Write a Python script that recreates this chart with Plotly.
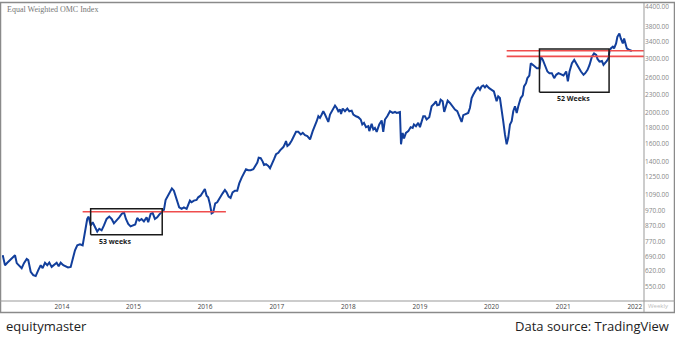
import numpy as np
import pandas as pd
import plotly.graph_objects as go

# ---------------- data (decimal year, index value) ----------------
yrs_2013_14 = [2013.172, 2013.204, 2013.236, 2013.274, 2013.311, 2013.344, 2013.368, 2013.399, 2013.437, 2013.469,
               2013.507, 2013.529, 2013.563, 2013.599, 2013.633, 2013.669, 2013.703, 2013.730, 2013.763, 2013.795,
               2013.823, 2013.856, 2013.888, 2013.926, 2013.954, 2013.982, 2014.018, 2014.052, 2014.084, 2014.122,
               2014.149, 2014.182, 2014.214, 2014.251, 2014.289, 2014.321, 2014.353, 2014.373, 2014.401, 2014.429,
               2014.461, 2014.493, 2014.521, 2014.554, 2014.587, 2014.624, 2014.661, 2014.694, 2014.726, 2014.764,
               2014.800, 2014.834, 2014.866, 2014.894, 2014.926, 2014.959, 2014.996]
val_2013_14 = [697, 647, 659, 672, 682, 697, 657, 647, 633, 657,
               678, 672, 616, 601, 597, 624, 647, 633, 659, 647,
               660, 639, 647, 659, 642, 659, 647, 642, 636, 639,
               672, 723, 750, 756, 750, 817, 912, 928, 869, 890,
               858, 831, 848, 838, 869, 912, 928, 912, 883, 901,
               923, 947, 958, 912, 879, 863, 869]

yrs_2015_16 = [2015.024, 2015.052, 2015.080, 2015.113, 2015.145, 2015.183, 2015.205, 2015.239, 2015.267, 2015.299,
               2015.331, 2015.359, 2015.392, 2015.425, 2015.448, 2015.485, 2015.508, 2015.536, 2015.564, 2015.602,
               2015.638, 2015.672, 2015.704, 2015.742, 2015.764, 2015.788, 2015.811, 2015.843, 2015.881, 2015.904,
               2015.937, 2015.973, 2015.997, 2016.021, 2016.043, 2016.067, 2016.091, 2016.113, 2016.141, 2016.169,
               2016.207, 2016.244, 2016.276, 2016.300, 2016.328, 2016.355, 2016.383, 2016.416, 2016.448, 2016.476,
               2016.510, 2016.542, 2016.570, 2016.602, 2016.635, 2016.672, 2016.700, 2016.728, 2016.747, 2016.775,
               2016.803, 2016.821, 2016.849, 2016.881, 2016.905, 2016.929, 2016.961, 2016.989]
val_2015_16 = [875, 919, 901, 912, 896, 923, 890, 947, 954, 912,
               923, 942, 963, 976, 1050, 1084, 1111, 1144, 1125, 1050,
               994, 983, 994, 983, 1019, 1045, 1032, 1045, 1050, 1071,
               1084, 1111, 1139, 1084, 1071, 1019, 951, 958, 1024, 1032,
               1071, 1103, 1131, 1111, 1076, 1066, 1111, 1125, 1125, 1187,
               1240, 1287, 1319, 1310, 1310, 1319, 1352, 1386, 1438, 1432,
               1396, 1362, 1369, 1352, 1329, 1376, 1421, 1474]

yrs_2017_18 = [2017.021, 2017.045, 2017.068, 2017.091, 2017.114, 2017.128, 2017.147, 2017.175, 2017.208, 2017.240,
               2017.268, 2017.300, 2017.334, 2017.362, 2017.394, 2017.426, 2017.464, 2017.501, 2017.533, 2017.557,
               2017.580, 2017.603, 2017.627, 2017.649, 2017.673, 2017.697, 2017.719, 2017.743, 2017.781, 2017.813,
               2017.837, 2017.859, 2017.883, 2017.897, 2017.920, 2017.952, 2017.985, 2018.013, 2018.046, 2018.069,
               2018.106, 2018.138, 2018.172, 2018.194, 2018.218, 2018.246, 2018.278, 2018.292, 2018.325, 2018.348,
               2018.371, 2018.395, 2018.431, 2018.465, 2018.487, 2018.511, 2018.543, 2018.581, 2018.618, 2018.651,
               2018.674, 2018.720, 2018.735, 2018.758, 2018.777, 2018.804, 2018.837, 2018.870, 2018.898, 2018.916,
               2018.944, 2018.976]
val_2017_18 = [1491, 1518, 1541, 1555, 1594, 1626, 1567, 1587, 1634, 1699,
               1741, 1741, 1708, 1728, 1699, 1687, 1646, 1750, 1816, 1884,
               1955, 1931, 1980, 2029, 1980, 1931, 1874, 1980, 2054, 2116,
               2079, 2029, 2054, 1989, 2070, 2029, 2070, 2029, 2039, 1980,
               1955, 1941, 1908, 1839, 1861, 1803, 1816, 1750, 1847, 1772,
               1793, 1741, 1839, 1894, 1741, 1908, 1955, 2029, 2004, 2018,
               2004, 2018, 1587, 1728, 1658, 1728, 1750, 1803, 1793, 1839,
               1816, 1861]

yrs_2019_20 = [2019.000, 2019.024, 2019.046, 2019.070, 2019.093, 2019.130, 2019.163, 2019.195, 2019.223, 2019.241,
               2019.269, 2019.289, 2019.317, 2019.339, 2019.363, 2019.387, 2019.419, 2019.457, 2019.489, 2019.521,
               2019.549, 2019.582, 2019.605, 2019.642, 2019.674, 2019.698, 2019.722, 2019.744, 2019.768, 2019.792,
               2019.814, 2019.838, 2019.861, 2019.884, 2019.908, 2019.931, 2019.967, 2020.001, 2020.033, 2020.071,
               2020.093, 2020.117, 2020.141, 2020.163, 2020.187, 2020.211, 2020.233, 2020.257, 2020.281, 2020.303,
               2020.327, 2020.351, 2020.373, 2020.407, 2020.435, 2020.453, 2020.481, 2020.499, 2020.527, 2020.547,
               2020.575, 2020.598, 2020.632, 2020.668, 2020.687, 2020.715, 2020.747, 2020.779, 2020.807, 2020.841,
               2020.873, 2020.901, 2020.933, 2020.967]
val_2019_20 = [1803, 1874, 1955, 1955, 1908, 1941, 2105, 2141, 2184, 2121,
               2131, 2211, 2184, 2018, 2090, 2195, 2157, 2090, 2054, 2029,
               1941, 1874, 1970, 1989, 2004, 2079, 2238, 2294, 2351, 2398,
               2421, 2380, 2439, 2457, 2421, 2457, 2409, 2380, 2351, 2184,
               2266, 2238, 2079, 1884, 1708, 1587, 1666, 1839, 1884, 2029,
               2105, 2004, 2105, 2238, 2283, 2439, 2499, 2593, 2645, 2897,
               2863, 2827, 2792, 2792, 3043, 2970, 2827, 2725, 2691, 2691,
               2593, 2659, 2691, 2671]

yrs_2021 = [2021.003, 2021.041, 2021.064, 2021.087, 2021.121, 2021.153, 2021.181, 2021.213, 2021.247, 2021.283,
            2021.307, 2021.339, 2021.367, 2021.400, 2021.430, 2021.460, 2021.478, 2021.506, 2021.540, 2021.562,
            2021.585, 2021.609, 2021.631, 2021.645, 2021.664, 2021.692, 2021.710, 2021.738, 2021.756, 2021.784,
            2021.804, 2021.832, 2021.850, 2021.874, 2021.888, 2021.925, 2021.958]
val_2021 = [2645, 2725, 2531, 2725, 2897, 2970, 2897, 2792, 2725, 2659,
            2691, 2759, 2862, 3043, 3118, 3081, 2992, 2933, 2948, 2862,
            2897, 2948, 3005, 3157, 3235, 3276, 3235, 3357, 3527, 3614,
            3483, 3357, 3483, 3357, 3235, 3197, 3174]

# consolidation boxes: [start, end] years and [low, high] values
box1_years = [2014.401, 2015.401]
box1_vals = [811, 983]
box2_years = [2020.668, 2021.640]
box2_vals = [2338, 3220]

# resistance lines
res1_years = [2014.289, 2016.290]
res1_val = 962
res2_years = [2020.211, 2022.300]
res2_vals = [3180, 3050]

label1 = ("53 weeks", 2014.740, 769)
label2 = ("52 Weeks", 2021.149, 2238)

year_ticks = [2014, 2015, 2016, 2017, 2018, 2019, 2020, 2021, 2022]
y_ticks = [550, 620, 690, 770, 870, 970, 1090, 1250, 1400, 1600, 1800, 2000, 2300, 2600, 3000, 3400, 3800, 4400]
x_range_years = [2013.162, 2022.128]
y_range_vals = [496, 4498]


def to_date(y):
    yi = int(np.floor(y))
    s = pd.Timestamp(yi, 1, 1)
    e = pd.Timestamp(yi + 1, 1, 1)
    return s + (e - s) * (y - yi)


years = yrs_2013_14 + yrs_2015_16 + yrs_2017_18 + yrs_2019_20 + yrs_2021
values = val_2013_14 + val_2015_16 + val_2017_18 + val_2019_20 + val_2021
dates = [to_date(y) for y in years]

fig = go.Figure()
fig.add_trace(go.Scatter(x=dates, y=values, mode="lines",
                         line=dict(color="#123f9c", width=2), hoverinfo="skip"))

# red resistance lines
fig.add_trace(go.Scatter(x=[to_date(res1_years[0]), to_date(res1_years[1])], y=[res1_val, res1_val],
                         mode="lines", line=dict(color="#ef4d4d", width=1.6), hoverinfo="skip"))
for v in res2_vals:
    fig.add_trace(go.Scatter(x=[to_date(res2_years[0]), to_date(res2_years[1])], y=[v, v],
                             mode="lines", line=dict(color="#ef4d4d", width=1.6), hoverinfo="skip"))

# boxes
for by, bv in [(box1_years, box1_vals), (box2_years, box2_vals)]:
    d0, d1 = to_date(by[0]), to_date(by[1])
    fig.add_trace(go.Scatter(x=[d0, d1, d1, d0, d0], y=[bv[0], bv[0], bv[1], bv[1], bv[0]],
                             mode="lines", line=dict(color="#1a1a1a", width=1.5), hoverinfo="skip"))

# layout geometry (pixels)
W, H = 675, 338
ML, MR, MT, MB = 2, 31, 2, 37
PW, PH = W - ML - MR, H - MT - MB


def px(x):
    return (x - ML) / PW


def py(y):
    return (H - MB - y) / PH


annotations = []
for txt, yx, yv in [label1, label2]:
    annotations.append(dict(x=to_date(yx), y=np.log10(yv), xref="x", yref="y", text="<b>%s</b>" % txt,
                            showarrow=False, font=dict(family="Open Sans", size=7, color="#1a1a1a"),
                            xanchor="center", yanchor="middle"))
annotations += [
    dict(x=px(5), y=py(8), xref="paper", yref="paper", text="Equal Weighted OMC Index", showarrow=False,
         xanchor="left", yanchor="middle", font=dict(family="Liberation Serif", size=8, color="#777")),
    dict(x=px(658), y=py(306), xref="paper", yref="paper", text="Weekly", showarrow=False,
         xanchor="center", yanchor="middle", font=dict(family="Open Sans", size=6, color="#bbb")),
    dict(x=px(4), y=py(326), xref="paper", yref="paper", text="equitymaster", showarrow=False,
         xanchor="left", yanchor="middle", font=dict(family="Open Sans", size=13, color="#222")),
    dict(x=px(671), y=py(326), xref="paper", yref="paper", text="Data source: TradingView", showarrow=False,
         xanchor="right", yanchor="middle", font=dict(family="Open Sans", size=13, color="#222")),
]

shapes = [
    dict(type="rect", xref="paper", yref="paper", x0=px(0.5), x1=px(674.5), y0=py(312.5), y1=py(0.5),
         line=dict(color="#8a8a8a", width=1.5)),
    dict(type="line", xref="paper", yref="paper", x0=px(644), x1=px(644), y0=py(312), y1=py(1),
         line=dict(color="#999", width=1)),
    dict(type="line", xref="paper", yref="paper", x0=px(0), x1=px(675), y0=py(301), y1=py(301),
         line=dict(color="#999", width=1)),
]

fig.update_layout(
    width=W, height=H, margin=dict(l=ML, r=MR, t=MT, b=MB),
    paper_bgcolor="white", plot_bgcolor="white", showlegend=False,
    font=dict(family="Open Sans"),
    xaxis=dict(type="date", range=[to_date(x_range_years[0]), to_date(x_range_years[1])],
               tickvals=[pd.Timestamp(y, 1, 1) for y in year_ticks], ticktext=[str(y) for y in year_ticks],
               tickfont=dict(size=6.5, color="#444"), showgrid=False, zeroline=False, showline=False, ticks=""),
    yaxis=dict(type="log", side="right", range=[np.log10(y_range_vals[0]), np.log10(y_range_vals[1])],
               tickvals=y_ticks, ticktext=["%.2f" % v for v in y_ticks],
               tickfont=dict(size=6.5, color="#888"), showgrid=False, zeroline=False, showline=False, ticks=""),
    annotations=annotations, shapes=shapes,
)

fig.write_html("out.html")
